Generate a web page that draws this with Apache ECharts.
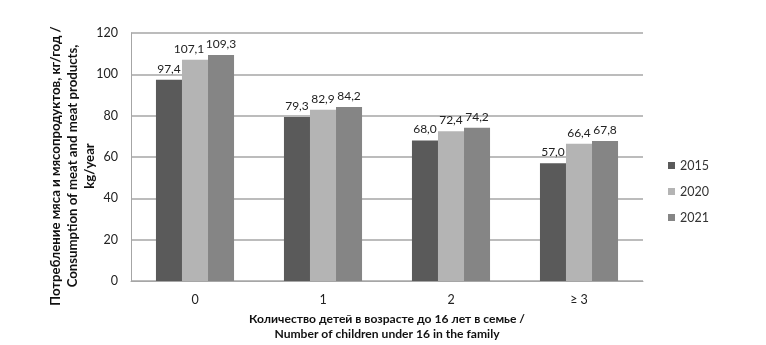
<!DOCTYPE html>
<html>
<head>
<meta charset="utf-8">
<script src="https://cdn.jsdelivr.net/npm/echarts@6/dist/echarts.min.js"></script>
<style>
  html, body { margin: 0; padding: 0; background: #ffffff; }
  #chart { width: 766px; height: 345px; }
</style>
</head>
<body>
<div id="chart"></div>
<script>
// Number of children under 16 in the family
const categories = ['0', '1', '2', '≥ 3'];
const years = ['2015', '2020', '2021'];
const values2015 = [97.4, 79.3, 68.0, 57.0];
const values2020 = [107.1, 82.9, 72.4, 66.4];
const values2021 = [109.3, 84.2, 74.2, 67.8];
const yTicks = [0, 20, 40, 60, 80, 100, 120];

const yTitle = 'Потребление мяса и мясопродуктов, кг/год /\nConsumption of meat and meat products,\nkg/year';
const xTitle = 'Количество детей в возрасте до 16 лет в семье /\nNumber of children under 16 in the family';

const colors = ['#5a5a5a', '#b4b4b4', '#858585'];
const FONT = 'Lato, "Open Sans", sans-serif';

function fmt(v) { return v.toFixed(1).replace('.', ','); }

// labelShift: optional per-point horizontal nudge so crowded labels don't collide
function makeSeries(name, data, color, labelShift) {
  return {
    name: name,
    type: 'bar',
    data: data.map((v, i) => {
      const dx = labelShift ? labelShift[i] : 0;
      return dx ? { value: v, label: { offset: [dx, 0] } } : v;
    }),
    barGap: '0%',
    barCategoryGap: '39%',
    itemStyle: { color: color },
    label: {
      show: true,
      position: 'top',
      distance: 5,
      color: '#222',
      fontFamily: FONT,
      fontSize: 12,
      formatter: p => fmt(p.value)
    }
  };
}

const chart = echarts.init(document.getElementById('chart'), null, { renderer: 'canvas' });
chart.setOption({
  animation: false,
  backgroundColor: '#ffffff',
  grid: { left: 131, right: 123, top: 33, bottom: 64, containLabel: false, outerBoundsMode: 'none' },
  legend: {
    orient: 'vertical',
    left: 663,
    top: 154,
    itemWidth: 7,
    itemHeight: 7,
    itemGap: 13,
    icon: 'rect',
    textStyle: { fontFamily: FONT, fontSize: 12.5, color: '#333' },
    data: years
  },
  // rotated value-axis title, centred a little below the plot's midline
  graphic: [{
    type: 'text',
    x: 73,
    y: 166,
    rotation: Math.PI / 2,
    style: {
      text: yTitle,
      fontFamily: FONT,
      fontSize: 13.2,
      fontWeight: 'bold',
      fill: '#111',
      lineHeight: 17,
      align: 'center',
      verticalAlign: 'middle'
    },
    z: 10
  }],
  xAxis: {
    type: 'category',
    data: categories,
    axisLine: { show: true, lineStyle: { color: '#a6a6a6', width: 1 } },
    axisTick: { show: false },
    axisLabel: { fontFamily: FONT, fontSize: 12.5, color: '#222', margin: 12 },
    name: xTitle,
    nameLocation: 'middle',
    nameGap: 31,
    nameMoveOverlap: false,
    nameTextStyle: { fontFamily: FONT, fontSize: 12.1, fontWeight: 'bold', color: '#111', lineHeight: 15 }
  },
  yAxis: {
    type: 'value',
    min: yTicks[0],
    max: yTicks[yTicks.length - 1],
    interval: 20,
    axisLine: { show: true, lineStyle: { color: '#a6a6a6', width: 1 } },
    axisTick: { show: false },
    splitLine: { show: true, lineStyle: { color: '#a6a6a6', width: 1.5 } },
    axisLabel: { fontFamily: FONT, fontSize: 12.5, color: '#222', margin: 13 }
  },
  series: [
    makeSeries(years[0], values2015, colors[0]),
    makeSeries(years[1], values2020, colors[1], [-6, 0, 0, 0]),
    makeSeries(years[2], values2021, colors[2])
  ]
});
</script>
</body>
</html>
